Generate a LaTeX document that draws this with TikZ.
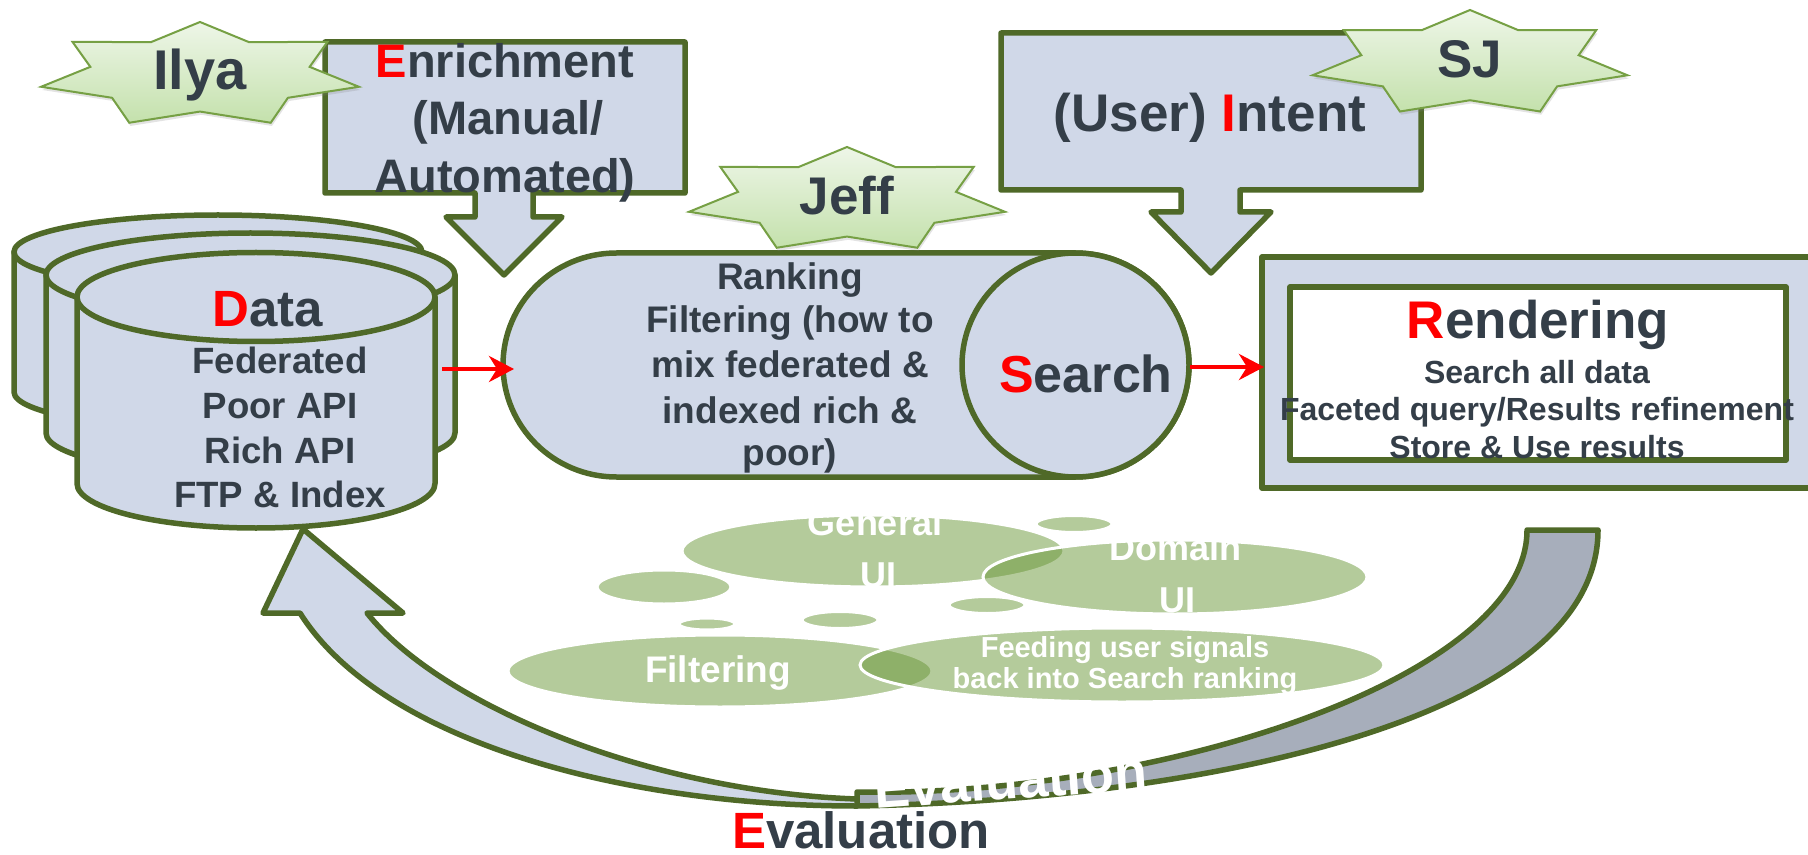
\documentclass[tikz,border=0pt]{standalone}
\usepackage{fontspec}
\setmainfont{Liberation Sans}
\usetikzlibrary{arrows.meta,shadows}
\definecolor{gline}{RGB}{79,105,40}
\definecolor{bfill}{RGB}{208,216,232}
\definecolor{dfill}{RGB}{167,174,187}
\definecolor{txt}{RGB}{52,62,72}
\definecolor{sTop}{RGB}{238,246,232}
\definecolor{sBot}{RGB}{196,225,172}
\definecolor{sLine}{RGB}{118,160,68}
\definecolor{bub}{RGB}{104,149,53}
\newcommand\fs[1]{\fontsize{#1pt}{#1pt}\selectfont\bfseries}
\newcommand\heptastar[5]{%
  \path[starshape] plot[variable=\sidx, samples at={0,...,13}]
    ({#2+(1-0.31*mod(\sidx,2))*#4*cos(90+\sidx*360/14)},
     {#3-(1-0.31*mod(\sidx,2))*#5*sin(90+\sidx*360/14)}) -- cycle;
  \coordinate (#1) at (#2,#3);}
\tikzset{
  bluebox/.style={draw=gline, line width=2.75pt, fill=bfill, line join=round},
  starshape/.style={draw=sLine, line width=1pt, top color=sTop, bottom color=sBot,
    drop shadow={opacity=0.22, shadow xshift=0.6pt, shadow yshift=-1.6pt}},
  lbl/.style={anchor=base, text=txt, inner sep=0pt},
  wtxt/.style={anchor=base, text=white, inner sep=0pt},
  bubble/.style={fill=bub, fill opacity=0.49, draw=white, line width=1.5pt},
  redarrow/.style={draw=red, line width=2pt, -{Stealth[length=12.5pt,width=13pt,inset=4pt]}},
}
\begin{document}
\begin{tikzpicture}[x=0.5pt,y=-0.5pt]
\useasboundingbox (0,0) rectangle (1808,855);
\clip (0,0) rectangle (1808,855);
\fill[white] (0,0) rectangle (1808,855);

% ---- Data cylinders (back, middle, front)
\path[bluebox] (14,252) -- (14,392) arc[start angle=180,end angle=0,x radius=204,y radius=37] -- (422,252) -- cycle;
\path[bluebox] (218,252) ellipse[x radius=204,y radius=37];
\path[bluebox] (46,275) -- (46,433) arc[start angle=180,end angle=0,x radius=204.5,y radius=42] -- (455,275) -- cycle;
\path[bluebox] (250.5,275) ellipse[x radius=204.5,y radius=42];
\path[bluebox] (77,297) -- (77,483.5) arc[start angle=180,end angle=0,x radius=179,y radius=44.5] -- (435,297) -- cycle;
\path[bluebox] (256,297) ellipse[x radius=179,y radius=44.5];
\coordinate (data) at (256,400);

% ---- Search pill
\path[bluebox] (616.5,253) -- (1075.5,253) arc[start angle=-90,end angle=90,x radius=113.5,y radius=112]
  -- (616.5,477) arc[start angle=90,end angle=270,x radius=113.5,y radius=112] -- cycle;
\path[bluebox] (1075.5,365) ellipse[x radius=113.5,y radius=112];
\coordinate (search) at (1075.5,365);

% ---- Rendering boxes
\path[bluebox] (1262,257) rectangle (1850,488);
\path[bluebox, fill=white] (1290,287) rectangle (1786,460);

% ---- red connectors
\coordinate (dataOut) at (442,369);
\coordinate (searchIn) at (514,369);
\coordinate (searchOut) at (1190,367);
\coordinate (rendIn) at (1264,367);
\draw[redarrow] (dataOut) -- (searchIn);
\draw[redarrow] (searchOut) -- (rendIn);

% ---- Enrichment callout
\path[bluebox] (325,42) -- (685,42) -- (685,193) -- (533,193) -- (533,217) -- (562,217)
  -- (504,275) -- (446,217) -- (475,217) -- (475,193) -- (325,193) -- cycle;
% ---- Intent callout
\path[bluebox] (1001,33) -- (1421,33) -- (1421,190) -- (1240,190) -- (1240,212) -- (1271,212)
  -- (1211,273) -- (1151,212) -- (1181,212) -- (1181,190) -- (1001,190) -- cycle;

% ---- stars
\heptastar{ilyaStar}{200}{75}{163}{53}
\heptastar{jeffStar}{847}{200}{162}{53}
\heptastar{sjStar}{1470}{63.4}{161.5}{53.4}

% ---- bubbles
\path[bubble] (1074,524) ellipse[x radius=38,y radius=8.5];
\path[bubble] (664,587) ellipse[x radius=67,y radius=17];
\path[bubble] (987,605) ellipse[x radius=38,y radius=8.5];
\path[bubble] (707,624) ellipse[x radius=28,y radius=6];
\path[bubble] (840,620) ellipse[x radius=38,y radius=8.5];
\path[bubble] (873,551) ellipse[x radius=191,y radius=36];
\path[bubble] (1175,577) ellipse[x radius=192,y radius=37];
\path[bubble] (720,671) ellipse[x radius=212,y radius=36];
\path[bubble] (1122,665) ellipse[x radius=262,y radius=37];

% ---- evaluation loop arrow
\path[bluebox, fill=dfill] (1527,530) -- (1598,530) .. controls (1598,720) and (1200,800) .. (857,806)
  -- (857,792) .. controls (1150,798) and (1527,680) .. (1527,530) -- cycle;
\path[bluebox] (300,613) -- (263,613) -- (303,529) -- (403,613) -- (367,613)
  .. controls (440,705) and (650,792) .. (857,799) -- (857,806)
  .. controls (620,806) and (380,740) .. (300,613) -- cycle;
\coordinate (loopTip) at (303,529);

% ---- labels
\node[lbl, font=\fs{28}] (ilya) at (200,90) {Ilya};
\node[lbl, font=\fs{26.5}] (jeff) at (847,215) {Jeff};
\node[lbl, font=\fs{26.5}] (sj) at (1470,78) {SJ};

\node[lbl, font=\fs{23.5}] (enr1) at (505,78) {{\color{red}E}nrichment};
\node[lbl, font=\fs{23.5}] (enr2) at (508,135) {(Manual/};
\node[lbl, font=\fs{23.5}] (enr3) at (505,193) {Automated)};

\node[lbl, font=\fs{26.5}] (intent) at (1210,132) {(User) {\color{red}I}ntent};

\node[lbl, font=\fs{25.5}] (dat0) at (268,327) {{\color{red}D}ata};
\node[lbl, font=\fs{18.3}] (dat1) at (280,373) {Federated};
\node[lbl, font=\fs{18.3}] (dat2) at (280,418) {Poor API};
\node[lbl, font=\fs{18.3}] (dat3) at (280,463) {Rich API};
\node[lbl, font=\fs{18.3}] (dat4) at (280,507) {FTP \& Index};

\node[lbl, font=\fs{18.5}] (rk1) at (790,290) {Ranking};
\node[lbl, font=\fs{18.5}] (rk2) at (790,333) {Filtering (how to};
\node[lbl, font=\fs{18.5}] (rk3) at (790,378) {mix federated \&};
\node[lbl, font=\fs{18.5}] (rk4) at (790,423) {indexed rich \&};
\node[lbl, font=\fs{18.5}] (rk5) at (790,465) {poor)};
\node[lbl, font=\fs{26}] (srch) at (1086,393) {{\color{red}S}earch};

\node[lbl, font=\fs{26.5}] (rend0) at (1538,339) {{\color{red}R}endering};
\node[lbl, font=\fs{16}] (rend1) at (1537,383) {Search all data};
\node[lbl, font=\fs{16}] (rend2) at (1537,420) {Faceted query/Results refinement};
\node[lbl, font=\fs{16}] (rend3) at (1537,458) {Store \& Use results};

\node[wtxt, font=\fs{18}] (gen1) at (875,535) {General};
\node[wtxt, font=\fs{18}] (gen2) at (878,587) {UI};
\node[wtxt, font=\fs{18}] (dom1) at (1175,560) {Domain};
\node[wtxt, font=\fs{18}] (dom2) at (1177,612) {UI};
\node[wtxt, font=\fs{18.5}] (filt) at (718,682) {Filtering};
\node[wtxt, font=\fs{14.5}] (feed1) at (1125,657) {Feeding user signals};
\node[wtxt, font=\fs{14.5}] (feed2) at (1125,688) {back into Search ranking};

\node[wtxt, font=\fs{27}, rotate=4] (evalw) at (1012,799) {Evaluation};
\node[lbl, font=\fs{25.5}] (eval) at (861,848) {{\color{red}E}valuation};
\end{tikzpicture}
\end{document}
